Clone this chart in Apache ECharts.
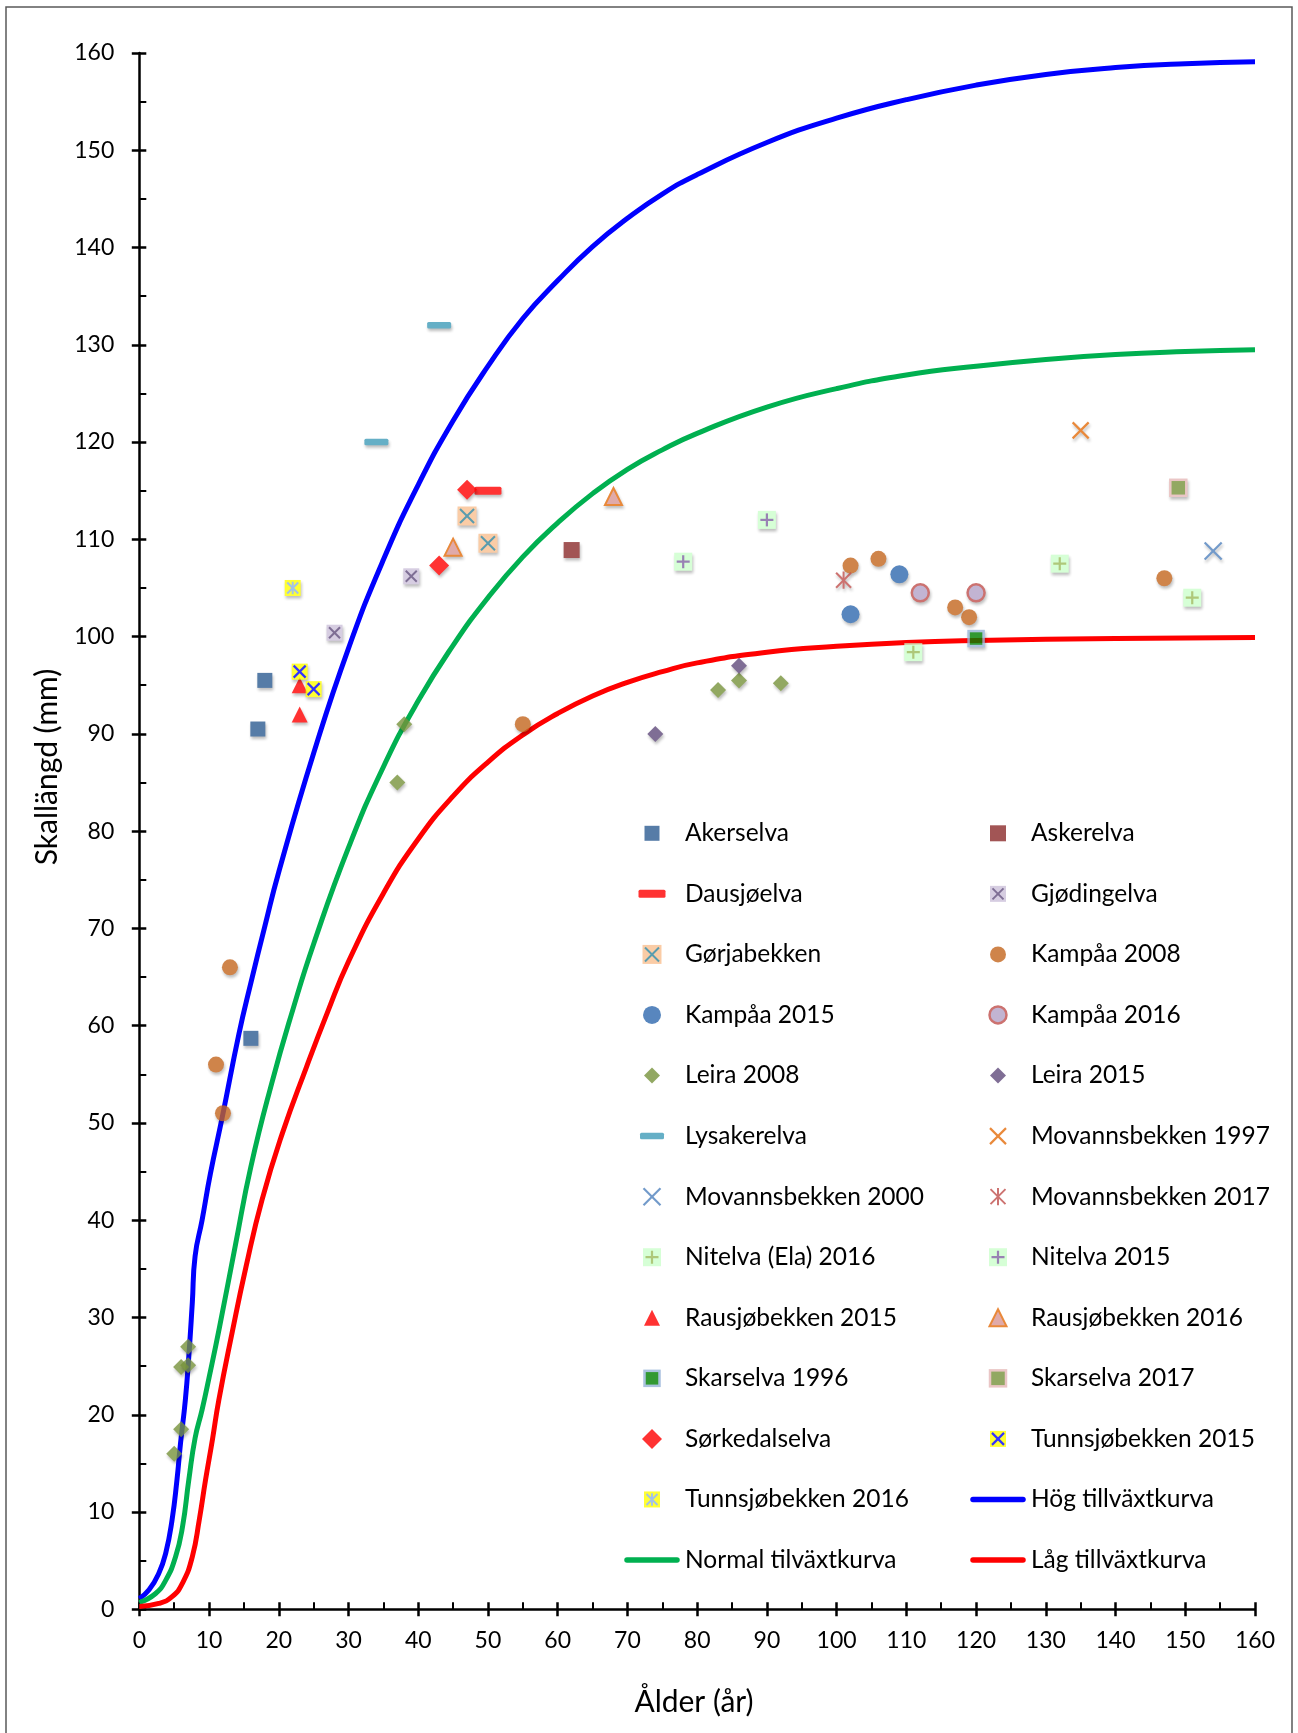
<!DOCTYPE html>
<html lang="sv">
<head>
<meta charset="UTF-8" />
<title>Skallängd mot ålder</title>
<script src="https://cdn.jsdelivr.net/npm/echarts@6.0.0/dist/echarts.min.js"></script>
<style>
  * { margin: 0; padding: 0; }
  body { background: #fff; overflow: hidden; }
  #main { width: 1298px; height: 1733px; }
</style>
</head>
<body>
<div id="main"></div>
<script>
// observationer: [ålder (år), skallängd (mm)]
const akerselva = [[17, 90.5], [18, 95.5], [16, 58.7]];
const askerelva = [[62, 108.9]];
const dausjoelva = [[50, 115]];
const gjodingelva = [[39, 106.2], [28, 100.4]];
const gorjabekken = [[47, 112.4], [50, 109.6]];
const kampaa2008 = [[11, 56], [12, 51], [13, 66], [55, 91], [102, 107.3], [106, 108], [117, 103], [119, 102], [147, 106]];
const kampaa2015 = [[102, 102.3], [109, 106.4]];
const kampaa2016 = [[112, 104.5], [120, 104.5]];
const leira2008 = [[5, 16], [6, 18.5], [6, 24.9], [7, 25.1], [7, 27], [37, 85], [38, 91], [83, 94.5], [86, 95.5], [92, 95.2]];
const leira2015 = [[74, 90], [86, 97]];
const lysakerelva = [[34, 120], [43, 132]];
const movann1997 = [[135, 121.2]];
const movann2000 = [[154, 108.8]];
const movann2017 = [[101, 105.8]];
const nitelvaEla2016 = [[111, 98.4], [132, 107.5], [151, 104]];
const nitelva2015 = [[78, 107.7], [90, 112]];
const rausjo2015 = [[23, 95], [23, 92]];
const rausjo2016 = [[45, 109.2], [68, 114.4]];
const skarselva1996 = [[120, 99.8]];
const skarselva2017 = [[149, 115.3]];
const sorkedalselva = [[47, 115.1], [43, 107.3]];
const tunnsjo2015 = [[23, 96.4], [25, 94.6]];
const tunnsjo2016 = [[22, 105]];

// tillväxtkurvor, avlästa punkter
const hogKurva = [[0, 1.1], [1.4, 2], [2.8, 3.7], [3.8, 5.8], [4.7, 9.2], [5.4, 13.3], [5.9, 17], [6.6, 21.5], [7.1, 26],
  [7.6, 31.5], [8, 36.3], [9, 40], [10.2, 44.8], [11.9, 50.6], [14.3, 59.2], [16, 64.4], [18, 70.2], [20, 75.8],
  [25, 88], [30, 98.8], [35, 107.9], [40, 115.6], [45, 122.2], [50, 127.8], [55, 132.7], [60, 136.6], [65, 140.1],
  [70, 143], [75, 145.5], [80, 147.5], [90, 150.8], [100, 153.3], [110, 155.2], [120, 156.7], [130, 157.8],
  [140, 158.5], [150, 158.9], [160, 159.1]];
const normalKurva = [[0, 0.7], [2.3, 1.6], [3.8, 3], [5.2, 5.4], [6.2, 8.5], [7.1, 13.3], [8, 17.6], [9, 20.5],
  [10, 23.8], [11.5, 29], [13.8, 37.5], [16, 45.5], [19, 54.1], [22, 61.6], [25, 68.4], [30, 78.3], [35, 86.6],
  [40, 93.4], [45, 99.1], [50, 104], [55, 108.2], [60, 111.7], [65, 114.7], [70, 117.2], [75, 119.2], [80, 120.9],
  [90, 123.6], [100, 125.5], [110, 126.9], [120, 127.8], [130, 128.5], [140, 129], [150, 129.3], [160, 129.5]];
const lagKurva = [[0, 0.3], [2.8, 0.6], [4.7, 1.3], [6.2, 2.7], [7.6, 5.4], [8.6, 9.2], [9.5, 13.3], [10.5, 17.5],
  [11.4, 21.5], [13.3, 28.4], [15.3, 35.2], [17.6, 42.1], [20.5, 48.9], [24, 55.8], [27, 61.4], [30, 66.6],
  [35, 73.6], [40, 79.2], [45, 83.6], [50, 87.1], [55, 89.9], [60, 92.1], [65, 93.9], [70, 95.3], [75, 96.4],
  [80, 97.3], [90, 98.4], [100, 99], [110, 99.4], [120, 99.6], [140, 99.8], [160, 99.9]];

// --- markörer som små svg-bilder ---
function sq(s, fill, stroke, sw) {
  return '<rect x="' + (-s / 2) + '" y="' + (-s / 2) + '" width="' + s + '" height="' + s + '" fill="' + fill + '"' +
    (stroke ? ' stroke="' + stroke + '" stroke-width="' + sw + '"' : '') + '/>';
}
function circ(d, fill, stroke, sw) {
  return '<circle cx="0" cy="0" r="' + d / 2 + '" fill="' + fill + '"' +
    (stroke ? ' stroke="' + stroke + '" stroke-width="' + sw + '"' : '') + '/>';
}
function diam(d, fill) {
  const r = d / 2;
  return '<polygon points="0,' + (-r) + ' ' + r + ',0 0,' + r + ' ' + (-r) + ',0" fill="' + fill + '"/>';
}
function tri(d, fill, stroke, sw) {
  const r = d / 2;
  return '<polygon points="0,' + (-r) + ' ' + r + ',' + r + ' ' + (-r) + ',' + r + '" fill="' + fill + '"' +
    (stroke ? ' stroke="' + stroke + '" stroke-width="' + sw + '" stroke-linejoin="miter"' : '') + '/>';
}
function ln(x1, y1, x2, y2, c, w) {
  return '<line x1="' + x1 + '" y1="' + y1 + '" x2="' + x2 + '" y2="' + y2 + '" stroke="' + c + '" stroke-width="' + w + '"/>';
}
function cross(d, c, w) { const r = d / 2; return ln(-r, -r, r, r, c, w) + ln(r, -r, -r, r, c, w); }
function plus(d, c, w) { const r = d / 2; return ln(-r, 0, r, 0, c, w) + ln(0, -r, 0, r, c, w); }
function star(d, c, w) { const r = d / 2; return cross(d, c, w) + ln(0, -r * 1.15, 0, r * 1.15, c, w); }
function dash(w, h, fill) {
  return '<rect x="' + (-w / 2) + '" y="' + (-h / 2) + '" width="' + w + '" height="' + h + '" rx="1.5" fill="' + fill + '"/>';
}

function svgImage(w, h, body) {
  const svg = '<svg xmlns="http://www.w3.org/2000/svg" width="' + w + '" height="' + h + '" viewBox="0 0 ' + w + ' ' + h + '">' + body + '</svg>';
  return 'image://data:image/svg+xml;charset=utf-8,' + encodeURIComponent(svg);
}
const BOX = 36;
function plotSymbol(mark) {
  const c = BOX / 2;
  const filter = '<defs><filter id="f" x="-50%" y="-50%" width="200%" height="200%">' +
    '<feColorMatrix type="matrix" values="0 0 0 0 0 0 0 0 0 0 0 0 0 0 0 0 0 0 0.32 0"/>' +
    '<feGaussianBlur stdDeviation="1.4"/></filter></defs>';
  return svgImage(BOX, BOX, filter +
    '<g transform="translate(' + (c + 1) + ' ' + (c + 2.5) + ')" filter="url(#f)">' + mark + '</g>' +
    '<g transform="translate(' + c + ' ' + c + ')">' + mark + '</g>');
}
const LW = 56, LH = 25;
function legendSymbol(mark) {
  return svgImage(LW, LH, '<g transform="translate(' + LW / 2 + ' ' + LH / 2 + ')">' + mark + '</g>');
}
function legendLine(color) {
  return svgImage(LW, LH, '<line x1="3" y1="' + LH / 2 + '" x2="53" y2="' + LH / 2 + '" stroke="' + color + '" stroke-width="5.5" stroke-linecap="round"/>');
}

const groups = [
  { name: 'Akerselva', data: akerselva, mark: sq(15, '#2D5C92') },
  { name: 'Askerelva', data: askerelva, mark: sq(16, '#8C2B2B') },
  { name: 'Dausjøelva', data: dausjoelva, mark: dash(27, 8, '#FF0000') },
  { name: 'Gjødingelva', data: gjodingelva, mark: sq(16, '#CCC1DA') + cross(11, '#5F4A7A', 2) },
  { name: 'Gørjabekken', data: gorjabekken, mark: sq(19, '#FAC090') + cross(14, '#31849B', 2) },
  { name: 'Kampåa 2008', data: kampaa2008, mark: circ(16, '#C4661E') },
  { name: 'Kampåa 2015', data: kampaa2015, mark: circ(18, '#2F69AE') },
  { name: 'Kampåa 2016', data: kampaa2016, mark: circ(17, '#B3A2C7', '#C0504D', 2.5) },
  { name: 'Leira 2008', data: leira2008, mark: diam(16, '#77933C') },
  { name: 'Leira 2015', data: leira2015, mark: diam(16, '#604A7B') },
  { name: 'Lysakerelva', data: lysakerelva, mark: dash(24, 6.5, '#3F9CB8') },
  { name: 'Movannsbekken 1997', data: movann1997, mark: cross(16, '#E46C0A', 2.2) },
  { name: 'Movannsbekken 2000', data: movann2000, mark: cross(17, '#4F81BD', 2.2) },
  { name: 'Movannsbekken 2017', data: movann2017, mark: star(15, '#C0504D', 2) },
  { name: 'Nitelva (Ela) 2016', data: nitelvaEla2016, mark: sq(18, '#CCFFCC') + plus(13, '#9BBB59', 2.2) },
  { name: 'Nitelva 2015', data: nitelva2015, mark: sq(18, '#CCFFCC') + plus(13, '#8064A2', 2.2) },
  { name: 'Rausjøbekken 2015', data: rausjo2015, mark: tri(16, '#FF0000') },
  { name: 'Rausjøbekken 2016', data: rausjo2016, mark: tri(17, '#D99694', '#E46C0A', 2) },
  { name: 'Skarselva 1996', data: skarselva1996, mark: sq(15, '#008000', '#95B3D7', 2.5) },
  { name: 'Skarselva 2017', data: skarselva2017, mark: sq(16, '#77933C', '#E6B9B8', 2.5) },
  { name: 'Sørkedalselva', data: sorkedalselva, mark: diam(20, '#FF0000') },
  { name: 'Tunnsjøbekken 2015', data: tunnsjo2015, mark: sq(16, '#FFFF00') + cross(12, '#0000FF', 2.2) },
  { name: 'Tunnsjøbekken 2016', data: tunnsjo2016, mark: sq(16, '#FFFF00') + star(11, '#8DB4E2', 2) }
];
const curves = [
  { name: 'Hög tillväxtkurva', data: hogKurva, color: '#0000FF' },
  { name: 'Normal tilväxtkurva', data: normalKurva, color: '#00B050' },
  { name: 'Låg tillväxtkurva', data: lagKurva, color: '#FF0000' }
];

const leftNames = ['Akerselva', 'Dausjøelva', 'Gørjabekken', 'Kampåa 2015', 'Leira 2008', 'Lysakerelva',
  'Movannsbekken 2000', 'Nitelva (Ela) 2016', 'Rausjøbekken 2015', 'Skarselva 1996', 'Sørkedalselva',
  'Tunnsjøbekken 2016', 'Normal tilväxtkurva'];
const rightNames = ['Askerelva', 'Gjødingelva', 'Kampåa 2008', 'Kampåa 2016', 'Leira 2015', 'Movannsbekken 1997',
  'Movannsbekken 2017', 'Nitelva 2015', 'Rausjøbekken 2016', 'Skarselva 2017', 'Tunnsjøbekken 2015',
  'Hög tillväxtkurva', 'Låg tillväxtkurva'];

const legendIcons = {};
groups.forEach(g => { legendIcons[g.name] = legendSymbol(g.mark); });
curves.forEach(c => { legendIcons[c.name] = legendLine(c.color); });

const series = [];
curves.forEach(c => {
  series.push({
    name: c.name, type: 'line', data: c.data, symbol: 'none', smooth: 0.5, z: 1,
    lineStyle: { color: c.color, width: 5 }, itemStyle: { color: c.color }, silent: true
  });
});
groups.forEach(g => {
  series.push({
    name: g.name, type: 'scatter', data: g.data, z: 3,
    symbol: plotSymbol(g.mark), symbolSize: [BOX, BOX]
  });
});

const FONT = 'Lato, "Liberation Sans", sans-serif';
const legendBase = {
  orient: 'vertical', top: 820.8, padding: 0, itemWidth: LW, itemHeight: LH, itemGap: 35.56,
  selectedMode: false,
  textStyle: { fontFamily: FONT, fontSize: 24.5, color: '#000' }
};
function legendData(names) { return names.map(n => ({ name: n, icon: legendIcons[n] })); }

const tickStyle = { color: '#000', width: 2.5 };
const chart = echarts.init(document.getElementById('main'));
chart.setOption({
  animation: false,
  backgroundColor: '#fff',
  grid: { left: 139.3, right: 43, top: 53, bottom: 123.7, outerBoundsMode: 'none' },
  xAxis: [
    {
      type: 'value', min: 0, max: 160, interval: 10, position: 'bottom',
      axisLine: { show: true, onZero: false, lineStyle: tickStyle },
      axisTick: { show: true, inside: true, length: 7, lineStyle: tickStyle },
      minorTick: { show: true, splitNumber: 2, length: 7, lineStyle: { color: '#000', width: 2 } },
      axisLabel: { margin: 20, fontFamily: FONT, fontSize: 23, color: '#000' },
      splitLine: { show: false }
    },
    {
      type: 'value', min: 0, max: 160, interval: 10, position: 'bottom',
      axisLine: { show: false, onZero: false },
      axisTick: { show: true, inside: false, length: 7, lineStyle: tickStyle },
      axisLabel: { show: false }, splitLine: { show: false }
    }
  ],
  yAxis: [
    {
      type: 'value', min: 0, max: 160, interval: 10, position: 'left',
      axisLine: { show: true, onZero: false, lineStyle: tickStyle },
      axisTick: { show: true, inside: true, length: 7, lineStyle: tickStyle },
      minorTick: { show: true, splitNumber: 2, length: 7, lineStyle: { color: '#000', width: 2 } },
      axisLabel: { margin: 25, fontFamily: FONT, fontSize: 23, color: '#000' },
      splitLine: { show: false }
    },
    {
      type: 'value', min: 0, max: 160, interval: 10, position: 'left',
      axisLine: { show: false, onZero: false },
      axisTick: { show: true, inside: false, length: 7.5, lineStyle: tickStyle },
      axisLabel: { show: false }, splitLine: { show: false }
    }
  ],
  legend: [
    Object.assign({}, legendBase, { left: 624, data: legendData(leftNames) }),
    Object.assign({}, legendBase, { left: 970, data: legendData(rightNames) })
  ],
  graphic: [
    {
      type: 'rect', silent: true, z: -1,
      shape: { x: 6, y: 7, width: 1286, height: 1760 },
      style: { fill: 'none', stroke: '#595959', lineWidth: 1.5 }
    },
    {
      type: 'text', x: 47, y: 767, rotation: Math.PI / 2, silent: true,
      style: { text: 'Skallängd (mm)', font: '30px ' + FONT, fill: '#000', align: 'center', verticalAlign: 'middle' }
    },
    {
      type: 'text', x: 694, y: 1702, silent: true,
      style: { text: 'Ålder (år)', font: '30px ' + FONT, fill: '#000', align: 'center', verticalAlign: 'middle' }
    }
  ],
  series: series
});
</script>
</body>
</html>
